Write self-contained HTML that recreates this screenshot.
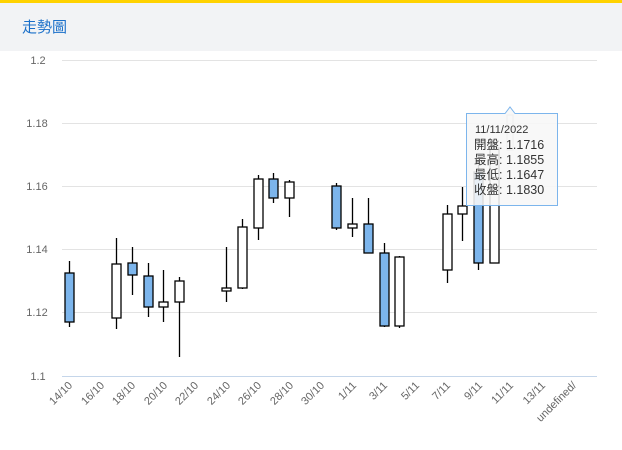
<!DOCTYPE html>
<html><head><meta charset="utf-8"><style>
body{margin:0;width:622px;height:450px;overflow:hidden;background:#fff;font-family:"Liberation Sans","Noto Sans CJK TC",sans-serif}
</style></head><body>
<svg width="622" height="450" xmlns="http://www.w3.org/2000/svg" style="position:absolute;left:0;top:0;font-family:'Liberation Sans','Noto Sans CJK TC',sans-serif">
<rect x="0" y="0" width="622" height="51" fill="#f2f3f5"/>
<rect x="0" y="0" width="622" height="3" fill="#ffd200"/>
<text x="22" y="32" font-size="15" fill="#1a6fc9">走勢圖</text>
<g stroke="#e3e3e3" stroke-width="1">
<line x1="62" y1="60.5" x2="597" y2="60.5"/>
<line x1="62" y1="123.5" x2="597" y2="123.5"/>
<line x1="62" y1="186.5" x2="597" y2="186.5"/>
<line x1="62" y1="249.5" x2="597" y2="249.5"/>
<line x1="62" y1="312.5" x2="597" y2="312.5"/>
</g>
<line x1="62" y1="376.5" x2="597" y2="376.5" stroke="#c5d6ea"/>
<g font-size="11" fill="#666" text-anchor="middle">
<text x="38" y="64">1.2</text>
<text x="37" y="127">1.18</text>
<text x="37" y="190">1.16</text>
<text x="37" y="253">1.14</text>
<text x="37" y="316">1.12</text>
<text x="38" y="380">1.1</text>
</g>
<g stroke="#000" stroke-width="1.3">
<line x1="69.5" y1="261" x2="69.5" y2="327"/><rect x="65" y="273" width="9" height="49" fill="#7cb5ec"/>
<line x1="116.5" y1="238" x2="116.5" y2="329"/><rect x="112" y="264" width="9" height="54" fill="#fff"/>
<line x1="132.5" y1="247" x2="132.5" y2="295"/><rect x="128" y="263" width="9" height="12" fill="#7cb5ec"/>
<line x1="148.5" y1="263" x2="148.5" y2="317"/><rect x="144" y="276" width="9" height="31" fill="#7cb5ec"/>
<line x1="163.5" y1="270" x2="163.5" y2="322"/><rect x="159" y="302" width="9" height="5" fill="#fff"/>
<line x1="179.5" y1="277" x2="179.5" y2="357"/><rect x="175" y="281" width="9" height="21" fill="#fff"/>
<line x1="226.5" y1="247" x2="226.5" y2="302"/><rect x="222" y="288" width="9" height="3" fill="#fff"/>
<line x1="242.5" y1="219" x2="242.5" y2="289"/><rect x="238" y="227" width="9" height="61" fill="#fff"/>
<line x1="258.5" y1="175" x2="258.5" y2="240"/><rect x="254" y="179" width="9" height="49" fill="#fff"/>
<line x1="273.5" y1="173" x2="273.5" y2="203"/><rect x="269" y="179" width="9" height="19" fill="#7cb5ec"/>
<line x1="289.5" y1="180" x2="289.5" y2="217"/><rect x="285" y="182" width="9" height="16" fill="#fff"/>
<line x1="336.5" y1="183" x2="336.5" y2="230"/><rect x="332" y="186" width="9" height="42" fill="#7cb5ec"/>
<line x1="352.5" y1="198" x2="352.5" y2="237"/><rect x="348" y="224" width="9" height="4" fill="#fff"/>
<line x1="368.5" y1="198" x2="368.5" y2="253"/><rect x="364" y="224" width="9" height="29" fill="#7cb5ec"/>
<line x1="384.5" y1="243" x2="384.5" y2="327"/><rect x="380" y="253" width="9" height="73" fill="#7cb5ec"/>
<line x1="399.5" y1="256" x2="399.5" y2="328"/><rect x="395" y="257" width="9" height="69" fill="#fff"/>
<line x1="447.5" y1="205" x2="447.5" y2="283"/><rect x="443" y="214" width="9" height="56" fill="#fff"/>
<line x1="462.5" y1="187" x2="462.5" y2="241"/><rect x="458" y="206" width="9" height="8" fill="#fff"/>
<line x1="478.5" y1="165" x2="478.5" y2="270"/><rect x="474" y="172" width="9" height="91" fill="#7cb5ec"/>
<line x1="494.5" y1="140" x2="494.5" y2="263"/><rect x="490" y="148" width="9" height="115" fill="#fff"/>
</g>
<rect x="507" y="115" width="6" height="35" fill="none" stroke="#bbb" stroke-width="1.3"/>
<g>
<path d="M466.5 113.5 H505 L510 107 L515 113.5 H557.5 V205.5 H466.5 Z" fill="rgba(247,247,247,0.88)" stroke="#7cb5ec" stroke-width="1"/>
<text x="475" y="133" font-size="11" fill="#333">11/11/2022</text>
<text x="474" y="149" font-size="12.5" fill="#333">開盤: 1.1716</text>
<text x="474" y="164" font-size="12.5" fill="#333">最高: 1.1855</text>
<text x="474" y="179" font-size="12.5" fill="#333">最低: 1.1647</text>
<text x="474" y="194" font-size="12.5" fill="#333">收盤: 1.1830</text>
</g>
<g font-size="11" fill="#666" text-anchor="end">
<text transform="translate(73,386) rotate(-45)">14/10</text>
<text transform="translate(105,386) rotate(-45)">16/10</text>
<text transform="translate(136,386) rotate(-45)">18/10</text>
<text transform="translate(168,386) rotate(-45)">20/10</text>
<text transform="translate(199,386) rotate(-45)">22/10</text>
<text transform="translate(231,386) rotate(-45)">24/10</text>
<text transform="translate(262,386) rotate(-45)">26/10</text>
<text transform="translate(294,386) rotate(-45)">28/10</text>
<text transform="translate(325,386) rotate(-45)">30/10</text>
<text transform="translate(357,386) rotate(-45)">1/11</text>
<text transform="translate(388,386) rotate(-45)">3/11</text>
<text transform="translate(420,386) rotate(-45)">5/11</text>
<text transform="translate(451,386) rotate(-45)">7/11</text>
<text transform="translate(483,386) rotate(-45)">9/11</text>
<text transform="translate(514,386) rotate(-45)">11/11</text>
<text transform="translate(546,386) rotate(-45)">13/11</text>
<text transform="translate(577,386) rotate(-45)">undefined/</text>
</g>
</svg>
</body></html>
